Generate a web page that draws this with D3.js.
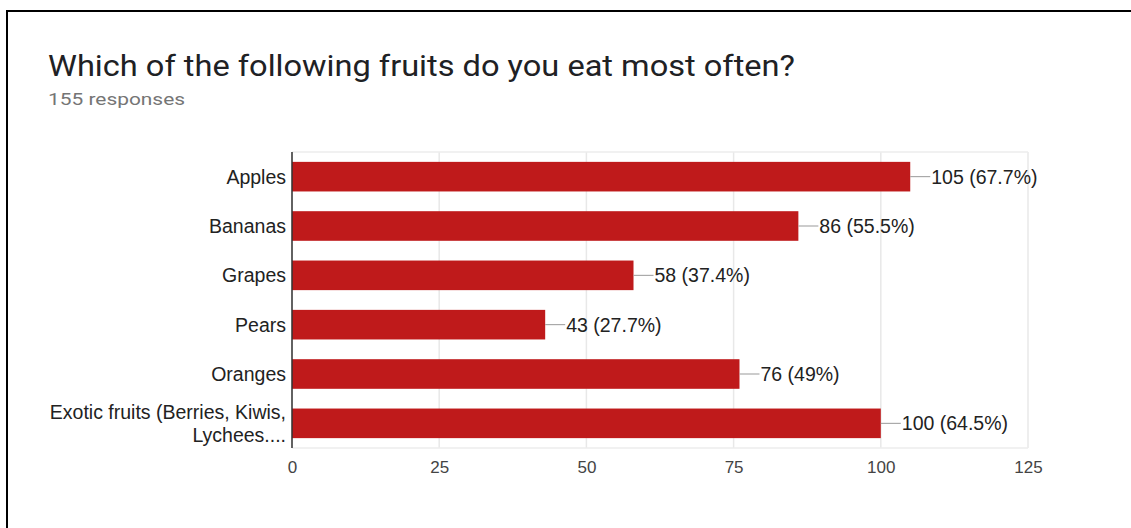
<!DOCTYPE html>
<html>
<head>
<meta charset="utf-8">
<script src="https://cdn.jsdelivr.net/npm/d3@7"></script>
<style>
  body { margin: 0; background: #fff; }
  svg { display: block; }
  .title { font-family: Roboto, "Noto Sans", sans-serif; }
  .axis text, .cat-label, .val-label { font-family: "Liberation Sans", Arial, sans-serif; }
</style>
</head>
<body>
<div id="chart"></div>
<script>
// data
const categories = ["Apples", "Bananas", "Grapes", "Pears", "Oranges", "Exotic fruits (Berries, Kiwis, Lychees...."];
const labelLines = [["Apples"], ["Bananas"], ["Grapes"], ["Pears"], ["Oranges"], ["Exotic fruits (Berries, Kiwis,", "Lychees...."]];
const counts = [105, 86, 58, 43, 76, 100];
const percents = ["67.7%", "55.5%", "37.4%", "27.7%", "49%", "64.5%"];
const xTicks = [0, 25, 50, 75, 100, 125];

const W = 1131, H = 528;
const margin = {top: 152, right: 103, bottom: 80, left: 292};
const width = W - margin.left - margin.right;
const height = H - margin.top - margin.bottom;

const svg = d3.select("#chart").append("svg")
    .attr("width", W)
    .attr("height", H);

// outer frame (top + left edges)
svg.append("path")
    .attr("d", `M7,${H} L7,11 L${W},11`)
    .attr("fill", "none")
    .attr("stroke", "#000")
    .attr("stroke-width", 2);

svg.append("text")
    .attr("class", "title")
    .attr("x", 48)
    .attr("y", 76)
    .attr("font-size", 30)
    .attr("fill", "#202124")
    .attr("textLength", 747)
    .attr("lengthAdjust", "spacingAndGlyphs")
    .text("Which of the following fruits do you eat most often?");

svg.append("text")
    .attr("class", "title")
    .attr("x", 48)
    .attr("y", 105)
    .attr("font-size", 17)
    .attr("fill", "#757575")
    .attr("textLength", 137)
    .attr("lengthAdjust", "spacingAndGlyphs")
    .text("155 responses");

const g = svg.append("g")
    .attr("transform", `translate(${margin.left}, ${margin.top})`);

const x = d3.scaleLinear()
    .domain([0, 125])
    .range([0, width]);

const y = d3.scaleBand()
    .domain(categories)
    .range([0, height])
    .paddingInner(0.4)
    .paddingOuter(0.2);

// grid
g.selectAll(".grid")
    .data(xTicks)
    .enter().append("line")
    .attr("class", "grid")
    .attr("x1", d => x(d))
    .attr("x2", d => x(d))
    .attr("y1", 0)
    .attr("y2", height)
    .attr("stroke", "#e8e8e8")
    .attr("stroke-width", 1.5);

g.append("line")
    .attr("x1", 0).attr("x2", width)
    .attr("y1", 0).attr("y2", 0)
    .attr("stroke", "#ececec")
    .attr("stroke-width", 1.5);
g.append("line")
    .attr("x1", 0).attr("x2", width)
    .attr("y1", height).attr("y2", height)
    .attr("stroke", "#ececec")
    .attr("stroke-width", 1.5);

// x axis
const xAxis = d3.axisBottom(x).tickValues(xTicks).tickSize(0).tickPadding(13);
g.append("g")
    .attr("class", "axis x-axis")
    .attr("transform", `translate(0, ${height})`)
    .call(xAxis)
    .call(s => s.select(".domain").remove())
    .selectAll("text")
    .attr("font-size", 17)
    .attr("fill", "#444");

// bars
g.selectAll(".bar")
    .data(counts)
    .enter().append("rect")
    .attr("class", "bar")
    .attr("x", 0)
    .attr("y", (d, i) => y(categories[i]))
    .attr("width", d => x(d))
    .attr("height", y.bandwidth())
    .attr("fill", "#bf1a1b");

// leader lines + value labels
g.selectAll(".leader")
    .data(counts)
    .enter().append("line")
    .attr("class", "leader")
    .attr("x1", d => x(d))
    .attr("x2", d => x(d) + 20)
    .attr("y1", (d, i) => y(categories[i]) + y.bandwidth() / 2)
    .attr("y2", (d, i) => y(categories[i]) + y.bandwidth() / 2)
    .attr("stroke", "#999")
    .attr("stroke-width", 1);

g.selectAll(".val-label")
    .data(counts)
    .enter().append("text")
    .attr("class", "val-label")
    .attr("x", d => x(d) + 21)
    .attr("y", (d, i) => y(categories[i]) + y.bandwidth() / 2)
    .attr("dy", "0.36em")
    .attr("font-size", 19.5)
    .attr("fill", "#222")
    .text((d, i) => `${d} (${percents[i]})`);

// category labels
const cat = g.selectAll(".cat-label")
    .data(categories)
    .enter().append("text")
    .attr("class", "cat-label")
    .attr("text-anchor", "end")
    .attr("font-size", 19.5)
    .attr("fill", "#222")
    .attr("y", d => y(d) + y.bandwidth() / 2);

cat.each(function(d, i) {
    const lines = labelLines[i];
    const t = d3.select(this);
    lines.forEach((ln, j) => {
        t.append("tspan")
            .attr("x", -6)
            .attr("dy", j === 0 ? `${0.36 - (lines.length - 1) * 0.6}em` : "1.2em")
            .text(ln);
    });
});

// y axis line
g.append("line")
    .attr("x1", 0).attr("x2", 0)
    .attr("y1", 0).attr("y2", height)
    .attr("stroke", "#333")
    .attr("stroke-width", 1.5);
</script>
</body>
</html>
